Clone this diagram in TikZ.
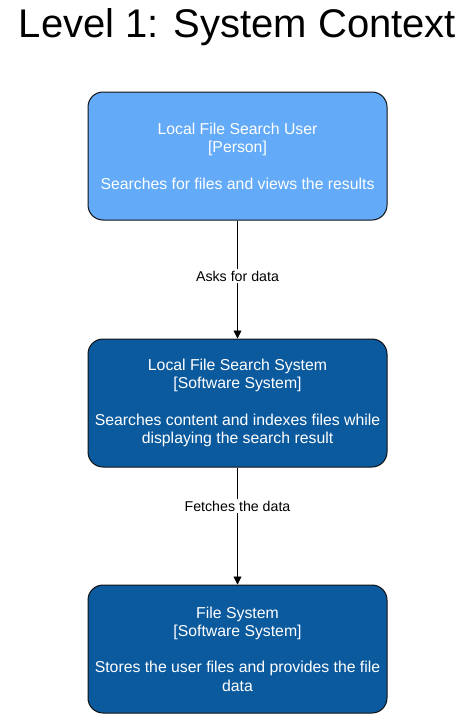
\documentclass[tikz,border=0pt]{standalone}
\usepackage{fontspec}
\setmainfont{Liberation Sans}
\usetikzlibrary{arrows.meta}
\definecolor{personblue}{HTML}{63AAF8}
\definecolor{sysblue}{HTML}{0B5A9E}
\definecolor{edgedark}{HTML}{111111}
\tikzset{
  c4box/.style={draw=edgedark, line width=1pt, rounded corners=15pt, minimum width=299pt, minimum height=128pt,
    text=white, align=center, font=\fontsize{15.8}{18.3}\selectfont, inner sep=0pt},
  flow/.style={draw=black, line width=0.9pt, -{Triangle[length=8pt,width=8pt]}},
  lbl/.style={fill=white, text=black, font=\fontsize{14.2}{16}\selectfont, inner sep=1.5pt}
}
\begin{document}
\begin{tikzpicture}[x=1pt,y=-1pt]
\useasboundingbox (0,0) rectangle (475,717);
\node (title) at (237.5,27) {\fontsize{40}{44}\selectfont Level 1: System Context};
\node[c4box, fill=personblue] (user) at (237.5,156) {Local File Search User\\{}[Person]\\[18.3pt]Searches for files and views the results};
\node[c4box, fill=sysblue] (sys) at (237.5,403) {Local File Search System\\{}[Software System]\\[18.3pt]Searches content and indexes files while\\displaying the search result};
\node[c4box, fill=sysblue] (fs) at (237.5,649) {File System\\{}[Software System]\\[18.3pt]Stores the user files and provides the file\\data};
\draw[flow] (user) -- node[lbl, pos=0.47] (l1) {Asks for data} (sys);
\draw[flow] (sys) -- node[lbl, pos=0.33] (l2) {Fetches the data} (fs);
\end{tikzpicture}
\end{document}
